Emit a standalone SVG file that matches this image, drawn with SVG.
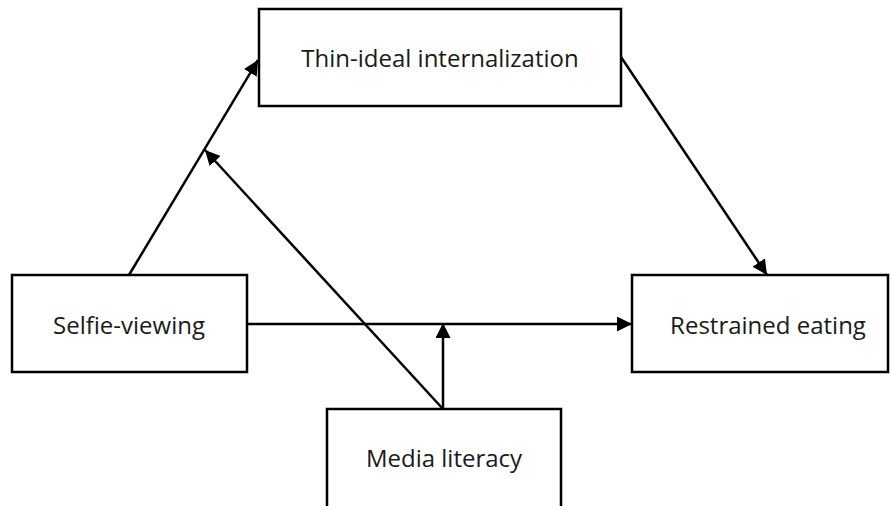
<svg xmlns="http://www.w3.org/2000/svg" width="891" height="506" viewBox="0 0 891 506">
<style>
.box{fill:#fff;stroke:#000;stroke-width:2.5}
.lbl{font-family:"Open Sans","Noto Sans",sans-serif;font-size:24px;fill:#1a1a1a;text-anchor:middle}
.edge{stroke:#000;stroke-width:2.5;fill:none;marker-end:url(#ah)}
</style>
<defs>
<marker id="ah" viewBox="0 0 10 10" refX="10" refY="5" markerWidth="6" markerHeight="6" markerUnits="strokeWidth" orient="auto">
<path d="M0,0 L10,5 L0,10 Z" fill="#000"/>
</marker>
</defs>
<rect width="891" height="506" fill="#fff"/>
<g id="connectors">
<line class="edge" x1="129" y1="275" x2="258" y2="60"/>
<line class="edge" x1="443" y1="409" x2="205" y2="150"/>
<line class="edge" x1="443" y1="409" x2="443" y2="323"/>
<line class="edge" x1="247" y1="324" x2="632" y2="324"/>
<line class="edge" x1="621" y1="57" x2="767" y2="275"/>
</g>
<g id="thin">
<rect class="box" x="259" y="9" width="362" height="97"/>
<text class="lbl" x="440" y="67">Thin-ideal internalization</text>
</g>
<g id="selfie">
<rect class="box" x="12" y="275" width="235" height="97"/>
<text class="lbl" x="129" y="334">Selfie-viewing</text>
</g>
<g id="restrained">
<rect class="box" x="632" y="275" width="256" height="97"/>
<text class="lbl" x="768" y="334">Restrained eating</text>
</g>
<g id="media">
<rect class="box" x="327" y="409" width="234" height="110"/>
<text class="lbl" x="444" y="467">Media literacy</text>
</g>
</svg>
